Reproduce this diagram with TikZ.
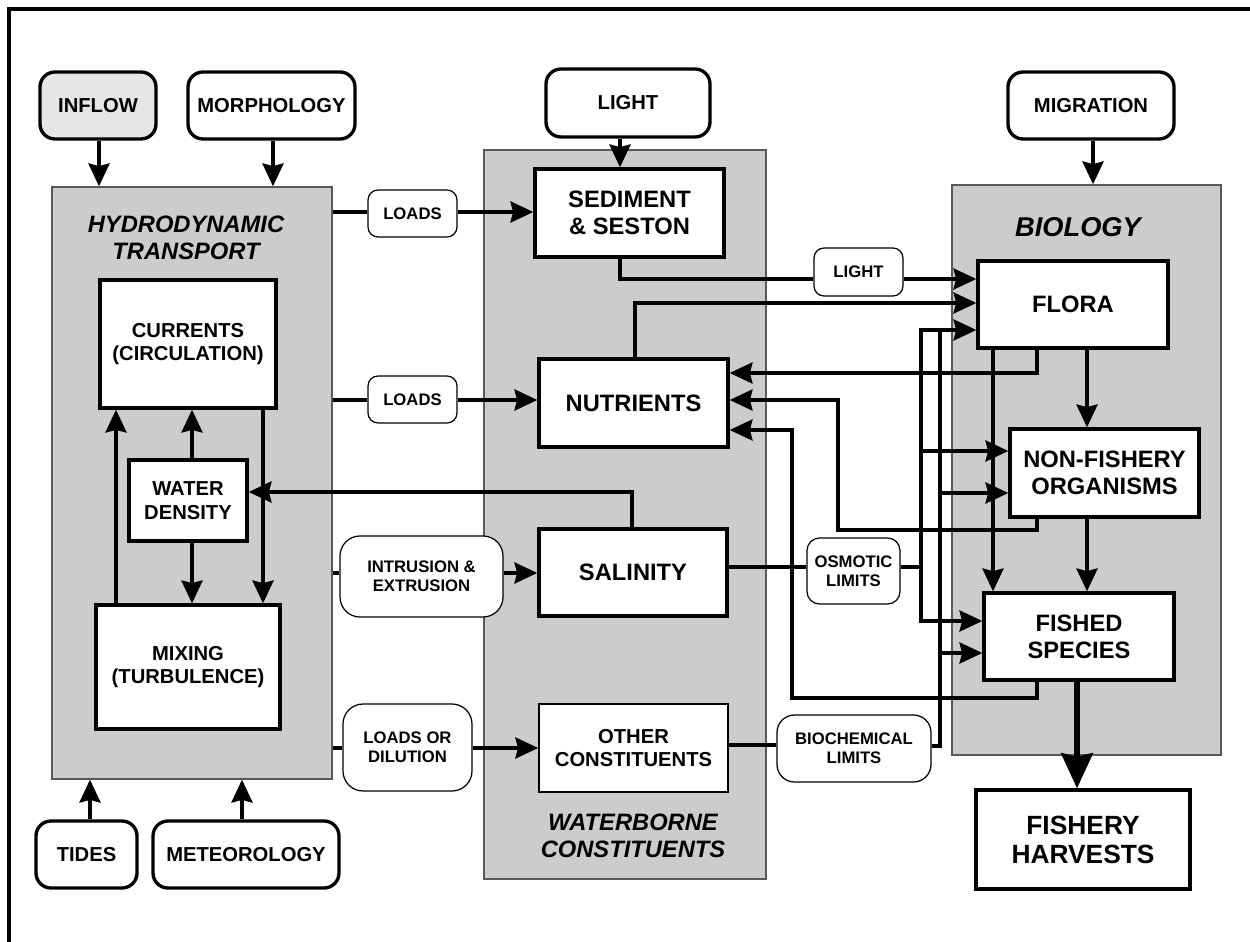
\documentclass[tikz,border=0pt]{standalone}
\usepackage{fontspec}
\setmainfont{Liberation Sans}
\usetikzlibrary{arrows.meta}
\definecolor{panel}{HTML}{CCCCCC}
\definecolor{inflowfill}{HTML}{E6E6E6}
\begin{document}
\begin{tikzpicture}[x=0.02cm,y=-0.02cm,
  sz/.style 2 args={minimum width=#1*0.02cm, minimum height=#2*0.02cm},
  rbox/.style={draw, line width=1.9pt, rounded corners=0.3cm, fill=white, inner sep=0pt, align=center,
    font=\fontsize{11.5}{13.5}\selectfont\bfseries},
  hbox/.style={draw, line width=1.9pt, fill=white, inner sep=0pt, align=center},
  tbox/.style={draw, line width=0.9pt, fill=white, inner sep=0pt, align=center},
  lbox/.style={draw, line width=0.7pt, fill=white, inner sep=0pt, align=center,
    font=\fontsize{9.5}{11}\selectfont\bfseries},
  big/.style={font=\fontsize{13.5}{15.3}\selectfont\bfseries},
  mid/.style={font=\fontsize{11.5}{13.5}\selectfont\bfseries},
  huge/.style={font=\fontsize{15}{16.5}\selectfont\bfseries},
  ital/.style={align=center, inner sep=0pt, font=\fontsize{13.5}{15.3}\selectfont\bfseries\itshape},
  cont/.style={draw=black!65, line width=0.8pt, fill=panel, inner sep=0pt},
  ln/.style={line width=1.9pt},
  arr/.style={ln, -{Stealth[length=13pt, width=12pt, inset=1.5pt]}},
  bigarr/.style={line width=3.2pt, -{Stealth[length=20pt, width=18pt, inset=2pt]}}]

\useasboundingbox (0,0) rectangle (1250,942);

% page frame (top and left edges)
\draw[line width=2pt] (9,942) -- (9,9) -- (1250,9);

% grey panels
\node[cont, sz={280}{592}] (hydro) at (192,483) {};
\node[cont, sz={282}{729}] (wb) at (625,514.5) {};
\node[cont, sz={269}{570}] (bio) at (1086.5,470) {};

\node[ital] (hydrot) at (186,237.5) {HYDRODYNAMIC\\TRANSPORT};
\node[ital] (wbt) at (633,836) {WATERBORNE\\CONSTITUENTS};
\node[ital, font=\fontsize{15.5}{17}\selectfont\bfseries\itshape] (biot) at (1078,227) {BIOLOGY};

% external drivers
\node[rbox, fill=inflowfill, sz={116}{67}] (inflow) at (98,105.5) {INFLOW};
\node[rbox, sz={167}{67}] (morph) at (271.5,105.5) {MORPHOLOGY};
\node[rbox, sz={101}{67}] (tides) at (86.5,854.5) {TIDES};
\node[rbox, sz={186}{67}] (meteo) at (246,854.5) {METEOROLOGY};
\node[rbox, sz={164}{68}] (light) at (628,103) {LIGHT};
\node[rbox, sz={166}{67}] (mig) at (1091,105.5) {MIGRATION};

% process boxes
\node[hbox, mid, sz={176}{128}] (cur) at (188,344) {CURRENTS\\(CIRCULATION)};
\node[hbox, mid, sz={118}{81}] (wd) at (188,500.5) {WATER\\DENSITY};
\node[hbox, mid, sz={184}{124}] (mix) at (188,667) {MIXING\\(TURBULENCE)};
\node[hbox, big, sz={189}{88}] (sed) at (629.5,213) {SEDIMENT\\\& SESTON};
\node[hbox, big, sz={189}{88}] (nut) at (633.5,403) {NUTRIENTS};
\node[hbox, big, sz={188}{87}] (sal) at (633,572.5) {SALINITY};
\node[tbox, mid, sz={189}{88}] (oc) at (633.5,748) {OTHER\\CONSTITUENTS};
\node[hbox, big, sz={190}{87}] (flora) at (1073,304.5) {FLORA};
\node[hbox, big, sz={189}{88}] (nf) at (1104.5,473) {NON-FISHERY\\ORGANISMS};
\node[hbox, big, sz={190}{87}] (fs) at (1079,636.5) {FISHED\\SPECIES};
\node[hbox, huge, sz={214}{99}] (hv) at (1083,839.5) {FISHERY\\HARVESTS};

% link labels
\node[lbox, rounded corners=0.2cm, sz={89}{47}] (ld1) at (412.5,213.5) {LOADS};
\node[lbox, rounded corners=0.2cm, sz={89}{47}] (ld2) at (412.5,399.5) {LOADS};
\node[lbox, rounded corners=0.4cm, sz={163}{81}] (intr) at (421.5,576.5) {INTRUSION \&\\EXTRUSION};
\node[lbox, rounded corners=0.4cm, sz={129}{87}] (ldd) at (407.5,747.5) {LOADS OR\\DILUTION};
\node[lbox, rounded corners=0.2cm, sz={89}{48}] (lt2) at (858.5,272) {LIGHT};
\node[lbox, rounded corners=0.25cm, sz={93}{66}] (osm) at (853.5,571) {OSMOTIC\\LIMITS};
\node[lbox, rounded corners=0.35cm, sz={154}{67}] (bch) at (854,748.5) {BIOCHEMICAL\\LIMITS};

% routing columns and rows
\coordinate (cI) at (99,0);   \coordinate (cMo) at (273,0);
\coordinate (cT) at (90,0);   \coordinate (cMe) at (242,0);
\coordinate (cL) at (620,0);  \coordinate (cN) at (635,0);
\coordinate (cSal) at (632,0);\coordinate (cFb) at (1037,0);
\coordinate (cNr) at (838,0); \coordinate (cFr) at (792,0);
\coordinate (cBa) at (921,0); \coordinate (cBb) at (940,0);
\coordinate (cFF) at (993,0); \coordinate (cBio) at (1087,0);
\coordinate (cHv) at (1077,0);\coordinate (cM) at (1093,0);
\coordinate (cH1) at (116,0); \coordinate (cH2) at (192,0);
\coordinate (cH3) at (263,0);
\coordinate (r1) at (0,212);  \coordinate (r2) at (0,400);
\coordinate (r3) at (0,573);  \coordinate (r4) at (0,748);
\coordinate (rL) at (0,279);  \coordinate (rN) at (0,303);
\coordinate (rB) at (0,330);  \coordinate (rF1) at (0,373);
\coordinate (rNF) at (0,530); \coordinate (rFS) at (0,698);
\coordinate (rN3) at (0,430); \coordinate (rWD) at (0,492);
\coordinate (rOs) at (0,567); \coordinate (rBc) at (0,746);
\coordinate (rOC) at (0,745);
\coordinate (rA1) at (0,451); \coordinate (rA2) at (0,493);
\coordinate (rA3) at (0,621); \coordinate (rA4) at (0,653);

% drivers into the panels
\draw[arr] (inflow.south -| cI) -- (hydro.north -| cI);
\draw[arr] (morph.south -| cMo) -- (hydro.north -| cMo);
\draw[arr] (tides.north -| cT) -- (hydro.south -| cT);
\draw[arr] (meteo.north -| cMe) -- (hydro.south -| cMe);
\draw[arr] (light.south -| cL) -- (sed.north -| cL);
\draw[arr] (mig.south -| cM) -- (bio.north -| cM);

% inside hydrodynamic transport
\draw[arr] (mix.north -| cH1) -- (cur.south -| cH1);
\draw[arr] (wd.north -| cH2) -- (cur.south -| cH2);
\draw[arr] (cur.south -| cH3) -- (mix.north -| cH3);
\draw[arr] (wd.south -| cH2) -- (mix.north -| cH2);

% transport to waterborne constituents
\draw[ln] (hydro.east |- r1) -- (ld1.west |- r1);
\draw[arr] (ld1.east |- r1) -- (sed.west |- r1);
\draw[ln] (hydro.east |- r2) -- (ld2.west |- r2);
\draw[arr] (ld2.east |- r2) -- (nut.west |- r2);
\draw[ln] (hydro.east |- r3) -- (intr.west |- r3);
\draw[arr] (intr.east |- r3) -- (sal.west |- r3);
\draw[ln] (hydro.east |- r4) -- (ldd.west |- r4);
\draw[arr] (ldd.east |- r4) -- (oc.west |- r4);

% salinity feeds water density
\draw[arr] (sal.north -| cSal) |- (wd.east |- rWD);

% constituents to biology
\draw[ln] (sed.south -| cL) |- (lt2.west |- rL);
\draw[arr] (lt2.east |- rL) -- (flora.west |- rL);
\draw[arr] (nut.north -| cN) |- (flora.west |- rN);

% recycling back to nutrients
\draw[arr] (flora.south -| cFb) |- (nut.east |- rF1);
\draw[arr] (nf.south -| cFb) -- (cFb |- rNF) -- (cNr |- rNF) -- (cNr |- r2) -- (nut.east |- r2);
\draw[arr] (fs.south -| cFb) -- (cFb |- rFS) -- (cFr |- rFS) -- (cFr |- rN3) -- (nut.east |- rN3);

% osmotic limits bus
\draw[ln] (sal.east |- rOs) -- (osm.west |- rOs);
\draw[ln] (osm.east |- rOs) -- (cBa |- rOs);
\draw[arr] (cBa |- rA3) |- (flora.west |- rB);
\draw[arr] (cBa |- rB) |- (fs.west |- rA3);
\draw[arr] (cBa |- rA1) -- (nf.west |- rA1);

% biochemical limits bus
\draw[ln] (oc.east |- rOC) -- (bch.west |- rOC);
\draw[ln] (bch.east |- rBc) -| (cBb |- rB);
\draw[arr] (cBb |- rA2) -- (nf.west |- rA2);
\draw[arr] (cBb |- rA4) -- (fs.west |- rA4);

% food web
\draw[arr] (flora.south -| cBio) -- (nf.north -| cBio);
\draw[arr] (nf.south -| cBio) -- (fs.north -| cBio);
\draw[arr] (flora.south -| cFF) -- (fs.north -| cFF);
\draw[bigarr] (fs.south -| cHv) -- (hv.north -| cHv);
\end{tikzpicture}
\end{document}
